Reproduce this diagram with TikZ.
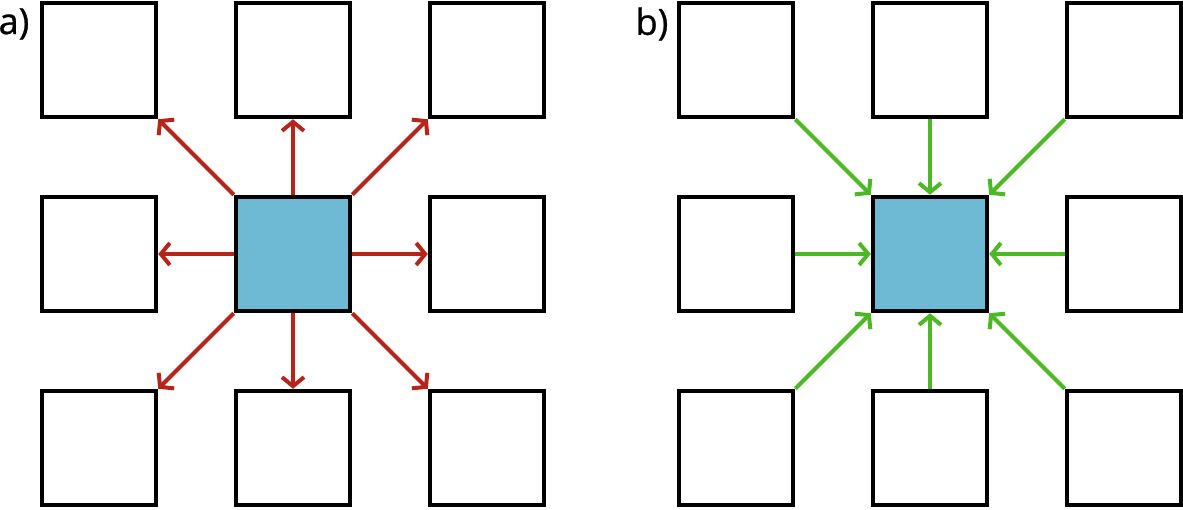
\documentclass[tikz,border=0pt]{standalone}
\usepackage{fontspec}
\setmainfont{Open Sans}
\newfontfamily\lblfont[FakeBold=0.8]{Open Sans}
\usetikzlibrary{arrows.meta}
\definecolor{arred}{HTML}{B5251A}
\definecolor{argreen}{HTML}{4CB824}
\definecolor{cfill}{HTML}{6EB9D4}
\begin{document}
\begin{tikzpicture}[x=1pt,y=-1pt,
  cell/.style={draw=black,line width=4.5pt,minimum size=114pt,inner sep=0pt,fill=white},
  center/.style={cell,fill=cfill},
  outarrow/.style={draw=arred,line width=4pt,-{Straight Barb[length=9pt,width=22pt]}},
  inarrow/.style={draw=argreen,line width=4pt,-{Straight Barb[length=9pt,width=22pt]}},
  lbl/.style={font=\lblfont\fontsize{36}{40}\selectfont,inner sep=0pt}]
\useasboundingbox (0,0) rectangle (1183,509);
% panel a
\node[cell] (a00) at (99,60) {};
\node[cell] (a01) at (293,60) {};
\node[cell] (a02) at (487,60) {};
\node[cell] (a10) at (99,254) {};
\node[center] (ac) at (293,254) {};
\node[cell] (a12) at (487,254) {};
\node[cell] (a20) at (99,448) {};
\node[cell] (a21) at (293,448) {};
\node[cell] (a22) at (487,448) {};
\node[lbl,anchor=center] (la) at (14,24) {a)};
\draw[outarrow] (ac.north west) -- (a00.south east);
\draw[outarrow] (ac.north) -- (a01.south);
\draw[outarrow] (ac.north east) -- (a02.south west);
\draw[outarrow] (ac.west) -- (a10.east);
\draw[outarrow] (ac.east) -- (a12.west);
\draw[outarrow] (ac.south west) -- (a20.north east);
\draw[outarrow] (ac.south) -- (a21.north);
\draw[outarrow] (ac.south east) -- (a22.north west);
% panel b
\node[cell] (b00) at (736,60) {};
\node[cell] (b01) at (930,60) {};
\node[cell] (b02) at (1124,60) {};
\node[cell] (b10) at (736,254) {};
\node[center] (bc) at (930,254) {};
\node[cell] (b12) at (1124,254) {};
\node[cell] (b20) at (736,448) {};
\node[cell] (b21) at (930,448) {};
\node[cell] (b22) at (1124,448) {};
\node[lbl,anchor=center] (lb) at (652,24) {b)};
\draw[inarrow] (b00.south east) -- (bc.north west);
\draw[inarrow] (b01.south) -- (bc.north);
\draw[inarrow] (b02.south west) -- (bc.north east);
\draw[inarrow] (b10.east) -- (bc.west);
\draw[inarrow] (b12.west) -- (bc.east);
\draw[inarrow] (b20.north east) -- (bc.south west);
\draw[inarrow] (b21.north) -- (bc.south);
\draw[inarrow] (b22.north west) -- (bc.south east);
\end{tikzpicture}
\end{document}
